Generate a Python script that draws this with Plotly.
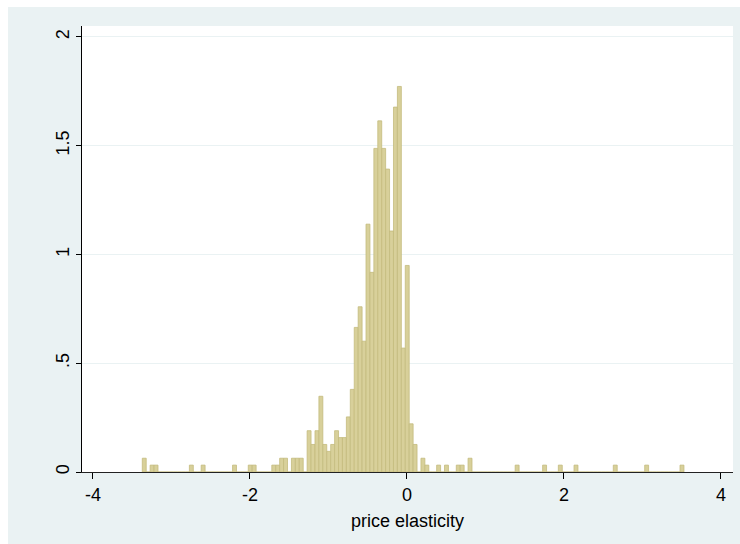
import plotly.graph_objects as go

# Histogram of price elasticities: bin layout and counts per bin
bin_start = -3.372
bin_width = 0.05
counts = [
    2, 0, 1, 1, 0, 0, 0, 0, 0, 0, 0, 0, 1, 0, 0, 1, 0, 0, 0, 0,
    0, 0, 0, 1, 0, 0, 0, 1, 1, 0, 0, 0, 0, 1, 1, 2, 2, 0, 2, 2,
    2, 0, 6, 4, 6, 11, 4, 3, 4, 6, 5, 5, 8, 12, 21, 24, 19, 36, 29, 47,
    51, 47, 44, 35, 53, 56, 18, 30, 7, 4, 0, 2, 1, 0, 0, 1, 0, 1, 0, 0,
    1, 1, 0, 2, 0, 0, 0, 0, 0, 0, 0, 0, 0, 0, 0, 1, 0, 0, 0, 0,
    0, 0, 1, 0, 0, 0, 1, 0, 0, 0, 1, 0, 0, 0, 0, 0, 0, 0, 0, 0,
    1, 0, 0, 0, 0, 0, 0, 0, 1, 0, 0, 0, 0, 0, 0, 0, 0, 1,
]

x_ticks = [-4, -2, 0, 2, 4]
x_tick_text = ["-4", "-2", "0", "2", "4"]
y_ticks = [0, 0.5, 1, 1.5, 2]
y_tick_text = ["0", ".5", "1", "1.5", "2"]
x_title = "price elasticity"

n_obs = sum(counts)
centers = [bin_start + bin_width * (i + 0.5) for i in range(len(counts))]
density = [c / (n_obs * bin_width) for c in counts]

W, H = 740, 544
ML, MR, MT, MB = 82, 7, 26, 72
BG = "#EAF2F3"
FONT = "Liberation Sans, Arial, Helvetica, sans-serif"

fig = go.Figure(
    go.Bar(
        x=centers,
        y=density,
        width=bin_width,
        marker=dict(color="#D8D09A", line=dict(color="#C4BB7E", width=0.8)),
        hoverinfo="skip",
    )
)

pw = W - ML - MR
ph = H - MT - MB
# thin white strips along the top and left edges of the canvas
fig.add_shape(type="rect", xref="paper", yref="paper",
              x0=-ML / pw, x1=(W - ML) / pw, y0=(H - MB - 7) / ph, y1=(H - MB) / ph + 0.1,
              fillcolor="white", line_width=0, layer="below")
fig.add_shape(type="rect", xref="paper", yref="paper",
              x0=-ML / pw - 0.1, x1=(8 - ML) / pw, y0=-MB / ph - 0.1, y1=(H - MB) / ph + 0.1,
              fillcolor="white", line_width=0, layer="below")

fig.update_layout(
    width=W,
    height=H,
    margin=dict(l=ML, r=MR, t=MT, b=MB, pad=0),
    paper_bgcolor=BG,
    plot_bgcolor="white",
    showlegend=False,
    font=dict(family=FONT, size=18, color="black"),
    xaxis=dict(
        range=[-4.14, 4.153],
        tickvals=x_ticks,
        ticktext=x_tick_text,
        ticks="outside",
        ticklen=6,
        tickcolor="black",
        showline=True,
        linecolor="#222222",
        linewidth=1,
        showgrid=False,
        zeroline=False,
        title=dict(text=x_title, font=dict(size=18), standoff=10),
        automargin=False,
    ),
    yaxis=dict(
        range=[0, 2.05],
        tickvals=y_ticks,
        ticktext=y_tick_text,
        tickangle=-90,
        ticks="outside",
        ticklen=5,
        tickcolor="black",
        showline=True,
        linecolor="black",
        linewidth=1,
        showgrid=True,
        gridcolor=BG,
        gridwidth=1,
        zeroline=False,
        automargin=False,
    ),
)

fig.write_html("out.html")
